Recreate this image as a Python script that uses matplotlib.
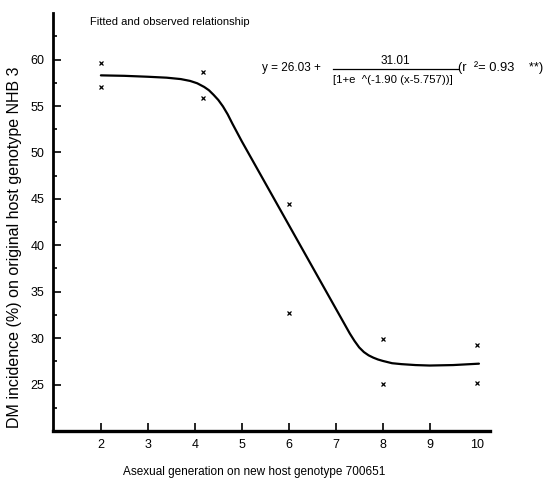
import numpy as np
import matplotlib.pyplot as plt

plt.rcParams['font.family'] = ['Liberation Sans', 'DejaVu Sans']

# observed points (two replicates per generation)
obs_x = [2, 2, 4.17, 4.17, 6, 6, 8, 8, 10, 10]
obs_y = [59.6, 57.0, 58.7, 55.9, 44.4, 32.7, 29.9, 25.1, 29.3, 25.2]

# fitted curve as drawn in the figure
fit_x = [2.0, 2.5, 3.0, 3.4, 3.7, 3.9, 4.05, 4.2, 4.3, 4.4, 4.5, 4.6, 4.7,
         4.8, 4.9, 5.0, 5.5, 6.0, 6.5, 7.0, 7.1, 7.2, 7.3, 7.4, 7.5, 7.6,
         7.7, 7.8, 7.9, 8.0, 8.2, 8.4, 8.7, 9.0, 9.5, 10.05]
fit_y = [58.3, 58.25, 58.15, 58.05, 57.9, 57.7, 57.45, 57.05, 56.7, 56.2,
         55.65, 54.95, 54.1, 53.1, 52.15, 51.2, 46.7, 42.2, 37.7, 33.2,
         32.3, 31.4, 30.5, 29.7, 29.0, 28.5, 28.15, 27.9, 27.7, 27.55,
         27.3, 27.2, 27.1, 27.05, 27.1, 27.25]

x_ticks = [2, 3, 4, 5, 6, 7, 8, 9, 10]
y_ticks = [25, 30, 35, 40, 45, 50, 55, 60]
y_minor = [22.5, 27.5, 32.5, 37.5, 42.5, 47.5, 52.5, 57.5, 62.5]

fig = plt.figure(figsize=(5.48, 4.87), dpi=100)
ax = fig.add_axes([0.0967, 0.115, 0.797, 0.858])

ax.plot(fit_x, fit_y, color='black', lw=1.6, solid_capstyle='round',
        solid_joinstyle='round')
ax.plot(obs_x, obs_y, linestyle='none', marker='x', color='black',
        markersize=2.5, mew=0.9)

ax.set_xlim(0.98, 10.28)
ax.set_ylim(20, 65)
ax.set_xticks(x_ticks)
ax.set_yticks(y_ticks)
ax.set_yticks(y_minor, minor=True)
ax.tick_params(axis='both', which='both', direction='in', width=1.2, labelsize=9)
ax.tick_params(axis='y', which='major', length=6, pad=6)
ax.tick_params(axis='y', which='minor', length=3)
ax.tick_params(axis='x', which='major', length=6, pad=6)
ax.xaxis.get_major_ticks()[-1].tick1line.set_visible(False)

for s in ['top', 'right']:
    ax.spines[s].set_visible(False)
ax.spines['left'].set_linewidth(2)
ax.spines['bottom'].set_linewidth(2.4)

fig.text(15 / 548, 1 - 247 / 487, 'DM incidence (%) on original host genotype NHB 3',
         fontsize=11.5, rotation=90, va='center', ha='center')
fig.text(123 / 548, 1 - 472 / 487, 'Asexual generation on new host genotype 700651',
         fontsize=8.5, va='center', ha='left')

fig.text(90 / 548, 1 - 22 / 487, 'Fitted and observed relationship', fontsize=8, va='center')

# equation
fig.text(262 / 548, 1 - 68 / 487, 'y = 26.03 +', fontsize=8.5, va='center')
fig.text(395 / 548, 1 - 61 / 487, '31.01', fontsize=8.5, va='center', ha='center')
fig.add_artist(plt.Line2D([333 / 548, 458 / 548], [1 - 69 / 487, 1 - 69 / 487],
                          color='black', lw=0.9))
fig.text(333 / 548, 1 - 80 / 487, '[1+e  ^(-1.90 (x-5.757))]', fontsize=8.2, va='center')
fig.text(458 / 548, 1 - 68 / 487, '(r  \u00b2= 0.93    **)', fontsize=9.3, va='center')

fig.savefig('out.png', dpi=100)
